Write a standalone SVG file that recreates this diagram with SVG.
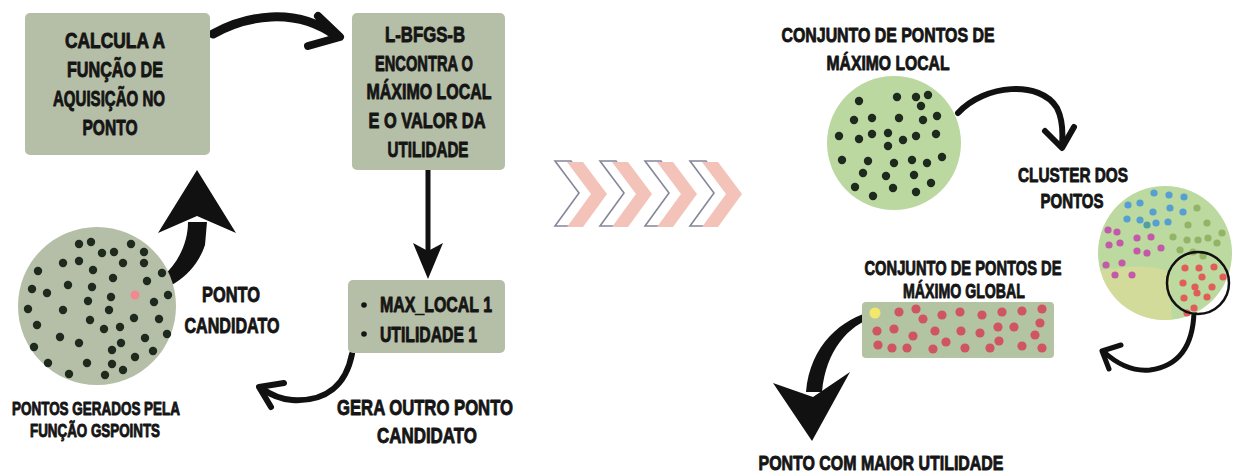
<svg xmlns="http://www.w3.org/2000/svg" width="1235" height="474" viewBox="0 0 1235 474">
<style>
.t{font-family:"Liberation Sans",Arial,sans-serif;font-weight:bold;fill:#151515;stroke:#151515;stroke-width:0.9;stroke-linejoin:round;text-anchor:middle}
.big{font-size:22px}
.md{font-size:21px}
.sm{font-size:18px}
.box{fill:#b5bea6}
.d{fill:#1e2a1e}
.ln{fill:none;stroke:#111;stroke-linecap:round;stroke-linejoin:round}
.rd{fill:#cf5560}
.bl{fill:#559fd2}
.pk{fill:#c35aa9}
.ol{fill:#93b466}
.rc{fill:#df5e58}
</style>
<defs>
<path id="chev" d="M0,0 L16,0 L40,32 L16,65 L0,65 L24,32 Z"/>
<clipPath id="cc"><circle cx="1165" cy="253" r="67"/></clipPath>
</defs>

<g id="connectors">
<path class="ln" d="M213,34 C245,16 295,6 336,36" stroke-width="9"/>
<path class="ln" d="M318,16 L340,37 L308,46" stroke-width="8"/>
<path d="M137,297 C168,292 195,275 205,245 L207,222 L188,222 C188,252 168,280 137,293 Z" fill="#111"/>
<path d="M197,170 L236,233 L197,216 L158,233 Z" fill="#111"/>
<path class="ln" d="M428,170 L428,250" stroke-width="5"/>
<path d="M413,243 L428,251 L443,243 L428,279 Z" fill="#111"/>
<path class="ln" d="M352,354 C346,385 326,402 292,400 C279,399 268,393 261,388" stroke-width="6"/>
<path class="ln" d="M284,383 L259,387 L271,407" stroke-width="6"/>
<path class="ln" d="M958,113 C985,84 1040,80 1057,108 C1063,120 1063,133 1062,145" stroke-width="6"/>
<path class="ln" d="M1045,131 L1062,148 L1074,127" stroke-width="6"/>
<path class="ln" d="M1194,312 C1193,345 1180,366 1150,370 C1130,372 1115,362 1104,352" stroke-width="5"/>
<path class="ln" d="M1121,345 L1102,351 L1109,369" stroke-width="5"/>
<path d="M874,311 C842,318 810,345 806,392 L822,392 C826,350 848,326 874,317 Z" fill="#111"/>
<path d="M773,383 L813,397 L850,372 L812,441 Z" fill="#111"/>
</g>

<g id="calcula">
<rect class="box" x="25" y="13" width="185" height="142" rx="5"/>
<text class="t big" x="115" y="48" textLength="100" lengthAdjust="spacingAndGlyphs">CALCULA A</text>
<text class="t big" x="115" y="77" textLength="96" lengthAdjust="spacingAndGlyphs">FUNÇÃO DE</text>
<text class="t big" x="109" y="106" textLength="112" lengthAdjust="spacingAndGlyphs">AQUISIÇÃO NO</text>
<text class="t big" x="110" y="135" textLength="55" lengthAdjust="spacingAndGlyphs">PONTO</text>
</g>

<g id="lbfgsb">
<rect class="box" x="352" y="13" width="153" height="157" rx="5"/>
<text class="t big" x="425" y="42" textLength="80" lengthAdjust="spacingAndGlyphs">L-BFGS-B</text>
<text class="t big" x="424" y="71" textLength="98" lengthAdjust="spacingAndGlyphs">ENCONTRA O</text>
<text class="t big" x="429" y="99" textLength="125" lengthAdjust="spacingAndGlyphs">MÁXIMO LOCAL</text>
<text class="t big" x="427" y="128" textLength="117" lengthAdjust="spacingAndGlyphs">E O VALOR DA</text>
<text class="t big" x="428" y="157" textLength="81" lengthAdjust="spacingAndGlyphs">UTILIDADE</text>
</g>

<g id="resultado">
<rect class="box" x="348" y="280" width="157" height="73" rx="5"/>
<circle cx="364" cy="305" r="2.8" fill="#151515"/>
<circle cx="364" cy="334" r="2.8" fill="#151515"/>
<text class="t big" x="380" y="312" style="text-anchor:start" textLength="112" lengthAdjust="spacingAndGlyphs">MAX_LOCAL 1</text>
<text class="t big" x="380" y="342" style="text-anchor:start" textLength="97" lengthAdjust="spacingAndGlyphs">UTILIDADE 1</text>
</g>

<g id="gspoints">
<circle cx="97" cy="306" r="79" fill="#b5bea6"/>
<g class="d">
<circle cx="79" cy="244" r="4.2"/><circle cx="91" cy="242" r="4.2"/><circle cx="102" cy="253" r="4.2"/><circle cx="114" cy="252" r="4.2"/><circle cx="131" cy="244" r="4.2"/><circle cx="144" cy="252" r="4.2"/>
<circle cx="63" cy="263" r="4.2"/><circle cx="79" cy="261" r="4.2"/><circle cx="93" cy="270" r="4.2"/><circle cx="123" cy="263" r="4.2"/><circle cx="144" cy="263" r="4.2"/><circle cx="38" cy="271" r="4.2"/>
<circle cx="162" cy="273" r="4.2"/><circle cx="68" cy="285" r="4.2"/><circle cx="92" cy="287" r="4.2"/><circle cx="113" cy="278" r="4.2"/><circle cx="147" cy="281" r="4.2"/><circle cx="32" cy="289" r="4.2"/>
<circle cx="47" cy="293" r="4.2"/><circle cx="111" cy="297" r="4.2"/><circle cx="154" cy="302" r="4.2"/><circle cx="168" cy="295" r="4.2"/><circle cx="88" cy="301" r="4.2"/><circle cx="28" cy="309" r="4.2"/>
<circle cx="63" cy="310" r="4.2"/><circle cx="109" cy="310" r="4.2"/><circle cx="90" cy="320" r="4.2"/><circle cx="134" cy="318" r="4.2"/><circle cx="159" cy="319" r="4.2"/><circle cx="37" cy="325" r="4.2"/>
<circle cx="104" cy="329" r="4.2"/><circle cx="120" cy="327" r="4.2"/><circle cx="167" cy="334" r="4.2"/><circle cx="60" cy="337" r="4.2"/><circle cx="79" cy="343" r="4.2"/><circle cx="121" cy="343" r="4.2"/>
<circle cx="145" cy="338" r="4.2"/><circle cx="34" cy="347" r="4.2"/><circle cx="112" cy="350" r="4.2"/><circle cx="153" cy="351" r="4.2"/><circle cx="135" cy="357" r="4.2"/><circle cx="48" cy="363" r="4.2"/>
<circle cx="87" cy="363" r="4.2"/><circle cx="112" cy="364" r="4.2"/><circle cx="123" cy="370" r="4.2"/><circle cx="69" cy="374" r="4.2"/><circle cx="105" cy="375" r="4.2"/>
</g>
<circle cx="135" cy="295" r="4.5" fill="#f08a8e"/>
<text class="t sm" x="96" y="415" textLength="168" lengthAdjust="spacingAndGlyphs">PONTOS GERADOS PELA</text>
<text class="t sm" x="95" y="437" textLength="130" lengthAdjust="spacingAndGlyphs">FUNÇÃO GSPOINTS</text>
</g>

<g id="candidato">
<text class="t big" x="231" y="302" textLength="58" lengthAdjust="spacingAndGlyphs">PONTO</text>
<text class="t big" x="232" y="333" textLength="95" lengthAdjust="spacingAndGlyphs">CANDIDATO</text>
</g>

<g id="gera">
<text class="t big" x="425" y="415" textLength="176" lengthAdjust="spacingAndGlyphs">GERA OUTRO PONTO</text>
<text class="t big" x="427" y="443" textLength="100" lengthAdjust="spacingAndGlyphs">CANDIDATO</text>
</g>

<g id="chevrons">
<g fill="none" stroke="#85879a" stroke-width="1.6">
<use href="#chev" x="555" y="161"/><use href="#chev" x="600" y="161"/><use href="#chev" x="645" y="161"/><use href="#chev" x="690" y="161"/>
</g>
<g fill="#f3c3b9">
<use href="#chev" x="567" y="162"/><use href="#chev" x="612" y="162"/><use href="#chev" x="657" y="162"/><use href="#chev" x="702" y="162"/>
</g>
</g>

<g id="maximo-local">
<text class="t md" x="888" y="42" textLength="213" lengthAdjust="spacingAndGlyphs">CONJUNTO DE PONTOS DE</text>
<text class="t md" x="888" y="70" textLength="123" lengthAdjust="spacingAndGlyphs">MÁXIMO LOCAL</text>
<circle cx="894" cy="143" r="67" fill="#bad8a0"/>
<g class="d">
<circle cx="859" cy="101" r="4.2"/><circle cx="897" cy="97" r="4.2"/><circle cx="916" cy="97" r="4.2"/><circle cx="928" cy="95" r="4.2"/><circle cx="921" cy="106" r="4.2"/>
<circle cx="854" cy="120" r="4.2"/><circle cx="872" cy="118" r="4.2"/><circle cx="899" cy="118" r="4.2"/><circle cx="923" cy="120" r="4.2"/><circle cx="937" cy="116" r="4.2"/>
<circle cx="839" cy="136" r="4.2"/><circle cx="859" cy="139" r="4.2"/><circle cx="872" cy="134" r="4.2"/><circle cx="888" cy="133" r="4.2"/><circle cx="903" cy="140" r="4.2"/><circle cx="916" cy="136" r="4.2"/><circle cx="936" cy="134" r="4.2"/><circle cx="888" cy="146" r="4.2"/>
<circle cx="842" cy="160" r="4.2"/><circle cx="868" cy="161" r="4.2"/><circle cx="894" cy="163" r="4.2"/><circle cx="912" cy="160" r="4.2"/><circle cx="927" cy="163" r="4.2"/><circle cx="942" cy="157" r="4.2"/>
<circle cx="863" cy="173" r="4.2"/><circle cx="886" cy="176" r="4.2"/><circle cx="914" cy="175" r="4.2"/><circle cx="931" cy="183" r="4.2"/>
<circle cx="855" cy="187" r="4.2"/><circle cx="893" cy="188" r="4.2"/><circle cx="916" cy="192" r="4.2"/><circle cx="873" cy="196" r="4.2"/>
</g>
</g>

<g id="cluster">
<text class="t md" x="1073" y="182" textLength="110" lengthAdjust="spacingAndGlyphs">CLUSTER DOS</text>
<text class="t md" x="1072" y="208" textLength="63" lengthAdjust="spacingAndGlyphs">PONTOS</text>
<circle cx="1165" cy="253" r="67" fill="#bcd9a0"/>
<path clip-path="url(#cc)" d="M1100,270 C1120,268 1148,262 1170,272 L1172,325 L1100,325 Z" fill="#e4dc95" opacity="0.55"/>
<g class="bl">
<circle cx="1154" cy="193" r="3.6"/><circle cx="1169" cy="195" r="3.6"/><circle cx="1184" cy="197" r="3.6"/><circle cx="1128" cy="205" r="3.6"/><circle cx="1140" cy="203" r="3.6"/><circle cx="1153" cy="212" r="3.6"/><circle cx="1170" cy="208" r="3.6"/><circle cx="1183" cy="212" r="3.6"/><circle cx="1127" cy="219" r="3.6"/><circle cx="1140" cy="220" r="3.6"/><circle cx="1156" cy="223" r="3.6"/><circle cx="1168" cy="222" r="3.6"/>
</g>
<circle cx="1147" cy="225" r="3.6" fill="#4fa0a2"/>
<g class="pk">
<circle cx="1108" cy="230" r="3.6"/><circle cx="1117" cy="232" r="3.6"/><circle cx="1137" cy="238" r="3.6"/><circle cx="1151" cy="237" r="3.6"/><circle cx="1109" cy="245" r="3.6"/><circle cx="1120" cy="243" r="3.6"/><circle cx="1137" cy="251" r="3.6"/><circle cx="1147" cy="253" r="3.6"/><circle cx="1161" cy="248" r="3.6"/><circle cx="1106" cy="265" r="3.6"/><circle cx="1122" cy="263" r="3.6"/><circle cx="1115" cy="275" r="3.6"/><circle cx="1132" cy="275" r="3.6"/>
</g>
<g class="ol">
<circle cx="1197" cy="208" r="3.6"/><circle cx="1188" cy="225" r="3.6"/><circle cx="1207" cy="223" r="3.6"/><circle cx="1222" cy="233" r="3.6"/><circle cx="1173" cy="237" r="3.6"/><circle cx="1187" cy="240" r="3.6"/><circle cx="1198" cy="240" r="3.6"/><circle cx="1208" cy="238" r="3.6"/><circle cx="1217" cy="243" r="3.6"/><circle cx="1180" cy="250" r="3.6"/><circle cx="1193" cy="252" r="3.6"/><circle cx="1203" cy="256" r="3.6"/>
</g>
<g class="rc">
<circle cx="1185" cy="268" r="3.6"/><circle cx="1199" cy="268" r="3.6"/><circle cx="1214" cy="267" r="3.6"/><circle cx="1202" cy="277" r="3.6"/><circle cx="1223" cy="277" r="3.6"/><circle cx="1183" cy="283" r="3.6"/><circle cx="1195" cy="287" r="3.6"/><circle cx="1212" cy="287" r="3.6"/><circle cx="1184" cy="298" r="3.6"/><circle cx="1197" cy="293" r="3.6"/><circle cx="1207" cy="297" r="3.6"/><circle cx="1194" cy="308" r="3.6"/><circle cx="1187" cy="313" r="3.6"/>
</g>
<circle cx="1198" cy="283" r="31" fill="none" stroke="#111" stroke-width="2.5"/>
</g>

<g id="maximo-global">
<text class="t md" x="963" y="275" textLength="197" lengthAdjust="spacingAndGlyphs">CONJUNTO DE PONTOS DE</text>
<text class="t md" x="964" y="298" textLength="122" lengthAdjust="spacingAndGlyphs">MÁXIMO GLOBAL</text>
<rect x="862" y="302" width="192" height="56" rx="4" fill="#b3c4a3"/>
<g class="rd">
<circle cx="899" cy="312" r="4.6"/><circle cx="916" cy="309" r="4.6"/><circle cx="923" cy="319" r="4.6"/><circle cx="942" cy="315" r="4.6"/><circle cx="960" cy="312" r="4.6"/><circle cx="982" cy="315" r="4.6"/><circle cx="1002" cy="312" r="4.6"/><circle cx="1022" cy="311" r="4.6"/><circle cx="1042" cy="309" r="4.6"/>
<circle cx="877" cy="331" r="4.6"/><circle cx="894" cy="329" r="4.6"/><circle cx="913" cy="336" r="4.6"/><circle cx="935" cy="331" r="4.6"/><circle cx="961" cy="331" r="4.6"/><circle cx="980" cy="333" r="4.6"/><circle cx="998" cy="327" r="4.6"/><circle cx="1014" cy="327" r="4.6"/><circle cx="1040" cy="323" r="4.6"/><circle cx="1035" cy="335" r="4.6"/>
<circle cx="878" cy="345" r="4.6"/><circle cx="892" cy="348" r="4.6"/><circle cx="907" cy="348" r="4.6"/><circle cx="933" cy="349" r="4.6"/><circle cx="946" cy="342" r="4.6"/><circle cx="965" cy="348" r="4.6"/><circle cx="990" cy="348" r="4.6"/><circle cx="999" cy="341" r="4.6"/><circle cx="1022" cy="346" r="4.6"/><circle cx="1042" cy="348" r="4.6"/>
</g>
<circle cx="875" cy="313" r="5.5" fill="#f4e86a"/>
</g>

<g id="maior-utilidade">
<text class="t md" x="881" y="470" textLength="245" lengthAdjust="spacingAndGlyphs">PONTO COM MAIOR UTILIDADE</text>
</g>
</svg>
